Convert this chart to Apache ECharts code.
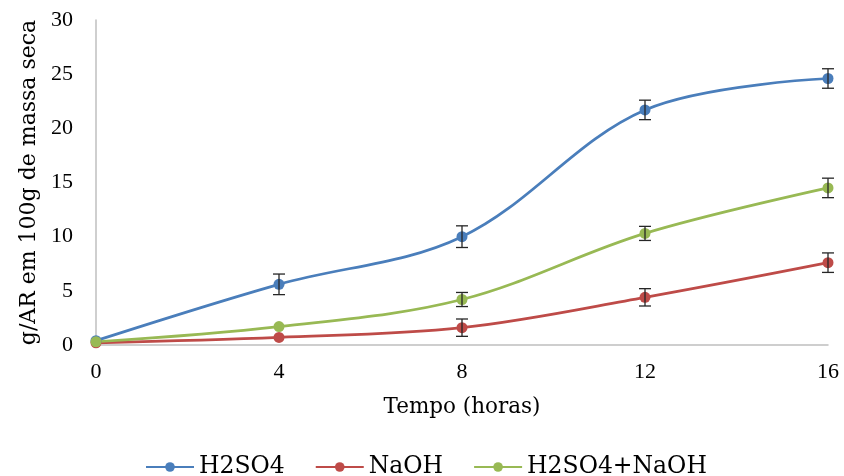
<!DOCTYPE html>
<html><head><meta charset="utf-8">
<script src="https://cdn.jsdelivr.net/npm/echarts@6/dist/echarts.min.js"></script>
<style>html,body{margin:0;padding:0;background:#fff}#c{width:844px;height:476px}</style>
</head><body><div id="c"></div>
<script>
const hours = [0, 4, 8, 12, 16];
const h2so4 = [0.4, 5.6, 10.0, 21.7, 24.6];
const h2so4Err = [0, 0.95, 1.0, 0.9, 0.9];
const naoh = [0.2, 0.7, 1.6, 4.4, 7.6];
const naohErr = [0, 0, 0.8, 0.8, 0.9];
const mix = [0.3, 1.7, 4.2, 10.3, 14.5];
const mixErr = [0, 0, 0.65, 0.65, 0.9];
const seriesNames = ['H2SO4', 'NaOH', 'H2SO4+NaOH'];
const colors = ['#4A7EBB', '#BE4B48', '#98B954'];

const tickFont = 'Liberation Serif';
const textFont = 'DejaVu Serif';
const chart = echarts.init(document.getElementById('c'));

function errSeries(vals, errs, name) {
  return {
    type: 'custom', name: name + ' err', silent: true, z: 4,
    data: hours.map((h, i) => [h, vals[i] - errs[i], vals[i] + errs[i]]),
    renderItem: function (params, api) {
      if (api.value(1) === api.value(2)) return null;
      const lo = api.coord([api.value(0), api.value(1)]);
      const hi = api.coord([api.value(0), api.value(2)]);
      const w = 6;
      const st = { stroke: '#262626', lineWidth: 1.3 };
      return { type: 'group', children: [
        { type: 'line', shape: { x1: lo[0], y1: lo[1], x2: hi[0], y2: hi[1] }, style: st },
        { type: 'line', shape: { x1: lo[0] - w, y1: lo[1], x2: lo[0] + w, y2: lo[1] }, style: st },
        { type: 'line', shape: { x1: hi[0] - w, y1: hi[1], x2: hi[0] + w, y2: hi[1] }, style: st }
      ]};
    }
  };
}
function lineSeries(vals, name, color) {
  return {
    type: 'line', name: name, smooth: 0.35, z: 3,
    data: hours.map((h, i) => [h, vals[i]]),
    symbol: 'circle', symbolSize: 11,
    lineStyle: { color: color, width: 2.75 },
    itemStyle: { color: color }
  };
}

chart.setOption({
  animation: false,
  color: colors,
  grid: { left: 96, right: 16, top: 20, bottom: 131 },
  legend: {
    data: seriesNames, top: 450, left: 140,
    itemWidth: 48, itemHeight: 12, itemGap: 30,
    textStyle: { fontFamily: textFont, fontSize: 23.5, color: '#000' }
  },
  xAxis: {
    type: 'value', min: 0, max: 16, interval: 4,
    name: 'Tempo (horas)', nameLocation: 'middle', nameGap: 51,
    nameTextStyle: { fontFamily: textFont, fontSize: 21.5, color: '#000' },
    axisLine: { show: true, lineStyle: { color: '#BFBFBF', width: 1.5 } },
    axisTick: { show: false },
    splitLine: { show: false },
    axisLabel: { fontFamily: tickFont, fontSize: 22, color: '#000', margin: 16 }
  },
  yAxis: {
    type: 'value', min: 0, max: 30, interval: 5,
    name: 'g/AR em 100g de massa seca', nameLocation: 'middle', nameGap: 51,
    nameRotate: 90,
    nameTextStyle: { fontFamily: textFont, fontSize: 22, color: '#000' },
    axisLine: { show: true, lineStyle: { color: '#BFBFBF', width: 1.5 } },
    axisTick: { show: false },
    splitLine: { show: false },
    axisLabel: { fontFamily: tickFont, fontSize: 22, color: '#000', margin: 23 }
  },
  series: [
    lineSeries(h2so4, seriesNames[0], colors[0]),
    lineSeries(naoh, seriesNames[1], colors[1]),
    lineSeries(mix, seriesNames[2], colors[2]),
    errSeries(h2so4, h2so4Err, seriesNames[0]),
    errSeries(naoh, naohErr, seriesNames[1]),
    errSeries(mix, mixErr, seriesNames[2])
  ]
});
</script></body></html>
